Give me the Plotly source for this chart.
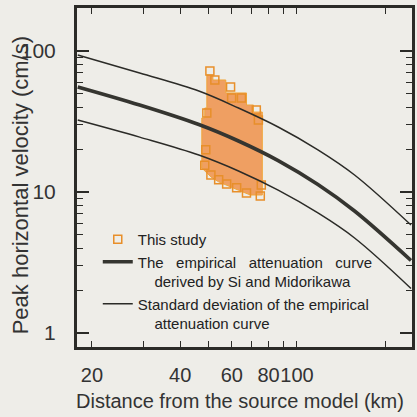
import plotly.graph_objects as go

# ---- data ----
# Si & Midorikawa empirical attenuation curve (mean)
curve_dist = [17.9, 29.1, 46.3, 63.2, 86.3, 117.9, 157.2, 244.8]
curve_pgv = [55.6, 41.4, 30.1, 23.0, 16.7, 11.3, 7.33, 3.27]
# mean + 1 standard deviation
upper_dist = [17.9, 29.1, 46.3, 63.2, 86.3, 117.9, 157.2, 244.8]
upper_pgv = [93.7, 69.8, 52.0, 39.4, 28.9, 19.9, 13.2, 5.83]
# mean - 1 standard deviation
lower_dist = [17.9, 29.1, 46.3, 63.2, 86.3, 117.9, 157.2, 244.8]
lower_pgv = [32.4, 24.5, 18.3, 14.1, 10.3, 7.10, 4.72, 2.07]

# This study: outline of the dense cloud of simulated values
cloud_dist = [49.3, 51.7, 51.7, 57.2, 57.2, 67.3, 67.3, 71.1, 71.1, 76.2, 76.2,
              69.4, 63.2, 58.5, 54.1, 50.9, 48.2, 47.4, 47.4, 48.5, 48.5, 49.3, 49.3]
cloud_pgv = [67.6, 67.6, 62.3, 62.3, 50.4, 50.4, 41.4, 41.4, 36.9, 36.9, 9.52,
             9.52, 10.3, 11.0, 11.8, 12.8, 14.3, 14.8, 33.5, 33.5, 39.4, 39.4, 67.6]
# This study: individual squares visible at the edge of the cloud
pts_dist = [50.5, 52.5, 59.4, 59.9, 64.7, 72.7, 73.9, 49.3, 48.9, 48.5, 50.9,
            54.1, 57.6, 62.3, 67.3, 75.0, 75.6]
pts_pgv = [72.1, 62.3, 55.6, 46.4, 46.4, 38.2, 32.4, 36.3, 19.9, 15.5, 13.2,
           12.2, 11.4, 10.7, 9.84, 9.37, 11.2]

x_major = [20, 40, 60, 80, 100]
x_labels = ["20", "40", "60", "80", "100"]
x_minor = [30, 50, 70, 90, 200]
y_major = [1, 10, 100]
y_labels = ["1", "10", "100"]
y_minor = [2, 3, 4, 5, 6, 7, 8, 9, 20, 30, 40, 50, 60, 70, 80, 90, 200]

INK = "#2b2b27"
BG = "#eeede8"
FONT = "Arial, 'Liberation Sans', sans-serif"

fig = go.Figure()

fig.add_trace(go.Scatter(x=cloud_dist, y=cloud_pgv, mode="lines", fill="toself",
                         fillcolor="#ef9f62", line=dict(color="#f0a53a", width=1),
                         showlegend=False, hoverinfo="skip"))
fig.add_trace(go.Scatter(x=pts_dist, y=pts_pgv, mode="markers",
                         marker=dict(symbol="square-open", size=8, color="#e88f2a",
                                     line=dict(width=1.5)),
                         name="This study"))
fig.add_trace(go.Scatter(x=curve_dist, y=curve_pgv, mode="lines", line_shape="spline",
                         line=dict(color="#353530", width=3.6),
                         name="The\u00a0\u00a0 empirical\u00a0\u00a0 attenuation\u00a0\u00a0 curve<br>"
                              "\u00a0\u00a0\u00a0\u00a0derived by Si and Midorikawa"))
fig.add_trace(go.Scatter(x=upper_dist, y=upper_pgv, mode="lines", line_shape="spline",
                         line=dict(color=INK, width=1.5),
                         name="Standard deviation of the empirical<br>"
                              "\u00a0\u00a0\u00a0\u00a0attenuation curve"))
fig.add_trace(go.Scatter(x=lower_dist, y=lower_pgv, mode="lines", line_shape="spline",
                         line=dict(color=INK, width=1.5), showlegend=False))

xr = [1.2503, 2.3922]
yr = [-0.0993, 2.305]

fig.update_layout(
    width=417, height=417,
    margin=dict(l=77, r=2, t=8, b=70),
    paper_bgcolor=BG, plot_bgcolor=BG,
    font=dict(family=FONT, color="#333333"),
    xaxis=dict(type="log", range=xr, showgrid=False, zeroline=False,
               showline=True, linewidth=3, linecolor=INK, mirror="allticks",
               ticks="inside", ticklen=6, tickwidth=1.3, tickcolor=INK,
               tickvals=x_major, ticktext=x_labels, tickfont=dict(size=20),
               tickangle=0, ticklabelstandoff=8,
               minor=dict(tickvals=x_minor, ticks="inside", ticklen=6,
                          tickwidth=1.3, tickcolor=INK)),
    xaxis2=dict(type="log", range=xr, overlaying="x", showgrid=False,
                zeroline=False, showline=False, mirror="ticks",
                ticks="inside", ticklen=13, tickwidth=1.5, tickcolor=INK,
                tickvals=[100], showticklabels=False),
    yaxis=dict(type="log", range=yr, showgrid=False, zeroline=False,
               showline=True, linewidth=3, linecolor=INK, mirror="allticks",
               ticks="inside", ticklen=12, tickwidth=1.5, tickcolor=INK,
               tickvals=y_major, ticktext=y_labels, tickfont=dict(size=21),
               ticklabelstandoff=14,
               minor=dict(tickvals=y_minor, ticks="inside", ticklen=6,
                          tickwidth=1.3, tickcolor=INK)),
    legend=dict(x=0.062, y=0.366, xanchor="left", yanchor="top",
                bgcolor="rgba(0,0,0,0)", font=dict(size=15, color="#222222"),
                valign="top", tracegroupgap=0),
    showlegend=True,
    annotations=[
        dict(text="Distance from the source model (km)", xref="paper", yref="paper",
             x=0.488, y=-0.159, showarrow=False, font=dict(size=20, color="#333333"),
             xanchor="center", yanchor="middle"),
        dict(text="Peak horizontal velocity (cm/s)", xref="paper", yref="paper",
             x=-0.166, y=0.478, showarrow=False, textangle=-90,
             font=dict(size=22, color="#333333"), xanchor="center", yanchor="middle"),
    ],
)

fig.write_html("out.html")
